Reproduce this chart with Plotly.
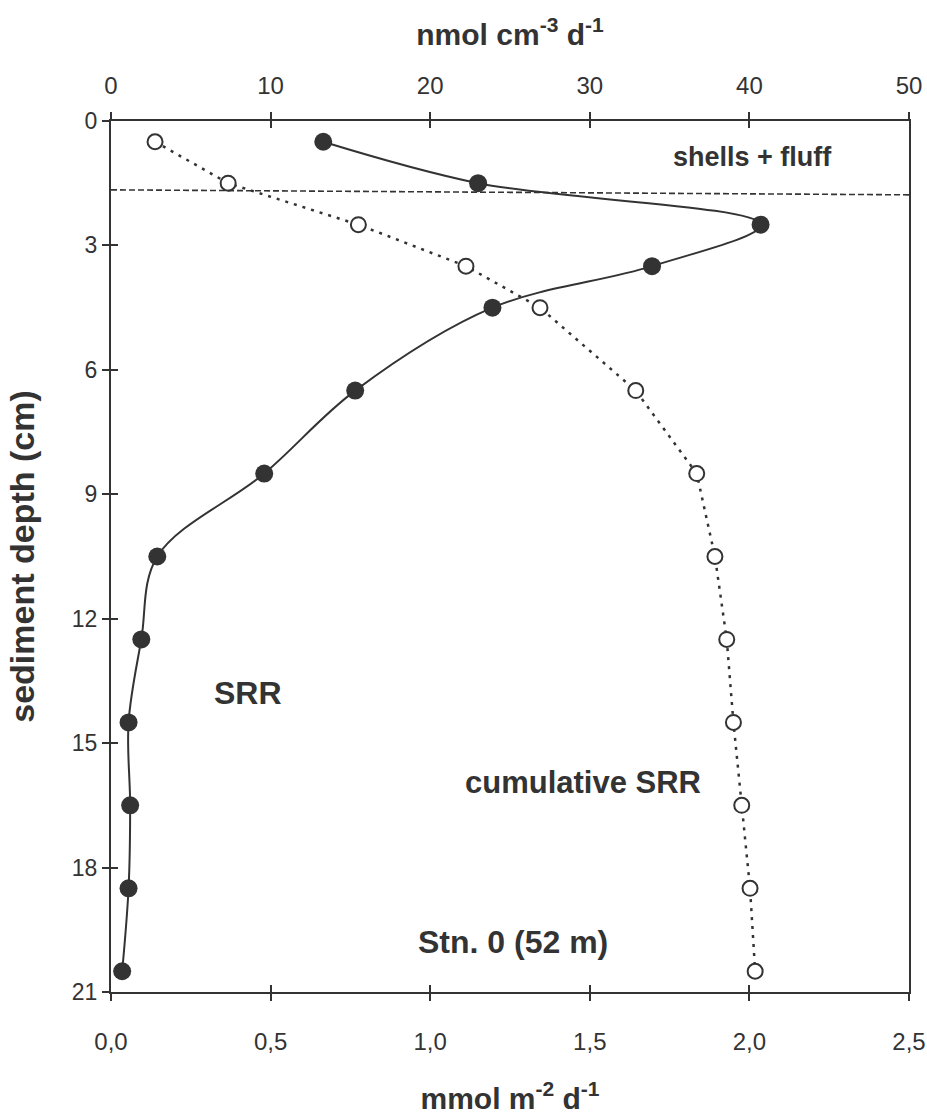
import plotly.graph_objects as go

# ---- data ----
depth_cm = [0.5, 1.5, 2.5, 3.5, 4.5, 6.5, 8.5, 10.5, 12.5, 14.5, 16.5, 18.5, 20.5]
srr_nmol = [13.3, 23.0, 40.7, 33.9, 23.9, 15.3, 9.6, 2.9, 1.9, 1.1, 1.2, 1.1, 0.7]
cum_srr_mmol = [0.138, 0.367, 0.775, 1.112, 1.344, 1.644, 1.835, 1.892, 1.929, 1.950, 1.976, 2.002, 2.018]
fluff_boundary_cm = [1.66, 1.78]  # dashed boundary line (left, right)

x_bottom_ticks = [0, 0.5, 1.0, 1.5, 2.0, 2.5]
x_top_ticks = [0, 10, 20, 30, 40, 50]
y_ticks = [0, 3, 6, 9, 12, 15, 18, 21]

INK = "#333333"
SANS = "Liberation Sans, Arial, Helvetica, sans-serif"

fig = go.Figure()

fig.add_trace(go.Scatter(
    x=cum_srr_mmol, y=depth_cm, xaxis="x", yaxis="y", mode="lines+markers",
    line=dict(color=INK, width=2.5, dash="3px,6px"),
    marker=dict(symbol="circle", size=15, color="white", line=dict(color=INK, width=2)),
    showlegend=False, name="cumulative SRR"))

fig.add_trace(go.Scatter(
    x=srr_nmol, y=depth_cm, xaxis="x2", yaxis="y", mode="lines+markers",
    line=dict(color=INK, width=2, shape="spline", smoothing=1.0),
    marker=dict(symbol="circle", size=18, color=INK),
    showlegend=False, name="SRR"))

# empty traces so the inner-tick overlay axes get drawn
for xa, ya in [("x3", "y"), ("x4", "y"), ("x", "y2")]:
    fig.add_trace(go.Scatter(x=[], y=[], xaxis=xa, yaxis=ya, mode="markers",
                             showlegend=False, hoverinfo="skip"))

fig.add_shape(type="line", xref="x", yref="y", x0=0, x1=2.5,
              y0=fluff_boundary_cm[0], y1=fluff_boundary_cm[1],
              line=dict(color=INK, width=1.6, dash="6px,3px"))

tickfont_x = dict(family=SANS, size=24, color=INK)
tickfont_left = dict(family=SANS, size=23, color=INK)
title_font = dict(family=SANS, size=30, color=INK)

fig.update_layout(
    width=927, height=1117,
    margin=dict(l=111, r=18, t=121, b=125),
    paper_bgcolor="white", plot_bgcolor="white",
    separators=",.",
    xaxis=dict(range=[0, 2.5], tickvals=x_bottom_ticks, tickformat=".1f", automargin=False,
               ticks="outside", ticklen=7, tickwidth=2, tickcolor=INK, ticklabelstandoff=20,
               showline=True, linewidth=2, linecolor=INK, showgrid=False, zeroline=False,
               tickfont=tickfont_x, anchor="y", side="bottom",
               title=dict(text="<b>mmol m<sup>-2</sup> d<sup>-1</sup></b>",
                          font=title_font, standoff=34)),
    xaxis2=dict(range=[0, 50], tickvals=x_top_ticks, overlaying="x", side="top", anchor="y",
                automargin=False,
                ticks="outside", ticklen=7, tickwidth=2, tickcolor=INK, ticklabelstandoff=8,
                showline=True, linewidth=2, linecolor=INK, showgrid=False, zeroline=False,
                tickfont=tickfont_x,
                title=dict(text="<b>nmol cm<sup>-3</sup> d<sup>-1</sup></b>",
                           font=title_font, standoff=18)),
    xaxis3=dict(range=[0, 2.5], tickvals=x_bottom_ticks, overlaying="x", side="bottom", anchor="y",
                automargin=False,
                ticks="inside", ticklen=7, tickwidth=2, tickcolor=INK, showticklabels=False,
                showline=False, showgrid=False, zeroline=False),
    xaxis4=dict(range=[0, 50], tickvals=x_top_ticks, overlaying="x", side="top", anchor="y",
                automargin=False,
                ticks="inside", ticklen=7, tickwidth=2, tickcolor=INK, showticklabels=False,
                showline=False, showgrid=False, zeroline=False),
    yaxis=dict(range=[21, 0], tickvals=y_ticks, ticks="outside", ticklen=7, tickwidth=2,
               automargin=False,
               tickcolor=INK, showline=True, linewidth=2, linecolor=INK, mirror=True,
               showgrid=False, zeroline=False, tickfont=tickfont_left, anchor="x",
               title=dict(text="<b>sediment depth (cm)</b>",
                          font=dict(family=SANS, size=34, color=INK), standoff=27)),
    yaxis2=dict(range=[21, 0], tickvals=y_ticks, overlaying="y", side="left", anchor="x",
                automargin=False,
                ticks="inside", ticklen=7, tickwidth=2, tickcolor=INK, showticklabels=False,
                showline=False, showgrid=False, zeroline=False),
)

fig.add_annotation(x=2.01, y=0.87, xref="x", yref="y", text="<b>shells + fluff</b>",
                   showarrow=False, font=dict(family=SANS, size=27, color=INK))
fig.add_annotation(x=0.429, y=13.8, xref="x", yref="y", text="<b>SRR</b>",
                   showarrow=False, font=dict(family=SANS, size=32, color=INK))
fig.add_annotation(x=1.479, y=15.96, xref="x", yref="y", text="<b>cumulative SRR</b>",
                   showarrow=False, font=dict(family=SANS, size=31, color=INK))
fig.add_annotation(x=1.259, y=19.8, xref="x", yref="y", text="<b>Stn. 0 (52 m)</b>",
                   showarrow=False, font=dict(family=SANS, size=32, color=INK))

fig.write_html("out.html")
